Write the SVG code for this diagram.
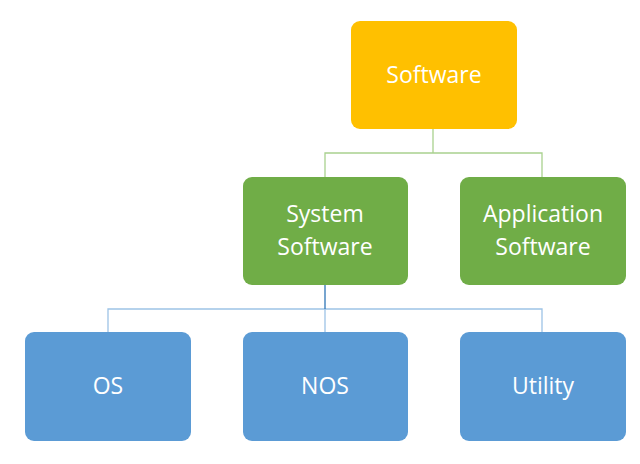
<svg xmlns="http://www.w3.org/2000/svg" width="640" height="464" viewBox="0 0 640 464">
<style>
text{font-family:"Open Sans","Liberation Sans",sans-serif;font-size:23px;fill:#fff;text-anchor:middle}
.y{fill:#FFC000}.g{fill:#70AD47}.b{fill:#5B9BD5}
.cg{stroke:#A9D18E;stroke-width:1.3;fill:none}.cb{stroke:#9DC3E6;stroke-width:1.3;fill:none}
</style>
<rect width="640" height="464" fill="#fff"/>
<g id="connectors">
<path class="cg" d="M433 129V153M325 177V153H542V177"/>
<path class="cb" d="M108 332V309H542V332M325 309V332"/>
<path d="M325 285V309" stroke="#2E75B6" stroke-width="1.3"/>
</g>
<g id="software"><rect class="y" x="351" y="21" width="166" height="108" rx="9"/><text x="434" y="83">Software</text></g>
<g id="system"><rect class="g" x="243" y="177" width="165" height="108" rx="9"/><text x="325" y="222">System</text><text x="325" y="255">Software</text></g>
<g id="application"><rect class="g" x="460" y="177" width="166" height="108" rx="9"/><text x="543" y="222">Application</text><text x="543" y="255">Software</text></g>
<g id="os"><rect class="b" x="25" y="332" width="166" height="109" rx="9"/><text x="108" y="394">OS</text></g>
<g id="nos"><rect class="b" x="243" y="332" width="165" height="109" rx="9"/><text x="325" y="394">NOS</text></g>
<g id="utility"><rect class="b" x="460" y="332" width="166" height="109" rx="9"/><text x="543" y="394">Utility</text></g>
</svg>
